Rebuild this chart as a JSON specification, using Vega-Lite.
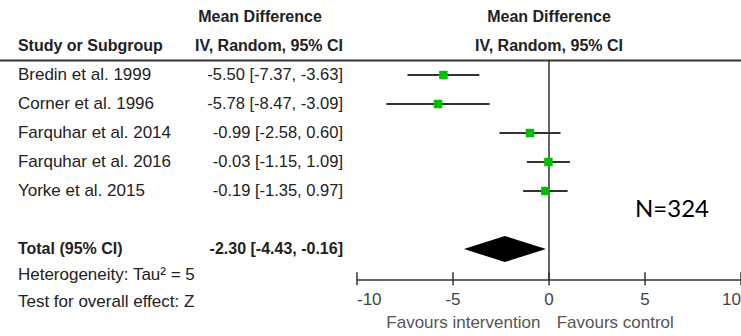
{
  "$schema": "https://vega.github.io/schema/vega-lite/v6.json",
  "width": 741,
  "height": 336,
  "autosize": {"type": "none"},
  "padding": 0,
  "background": "white",
  "config": {"view": {"stroke": null}},
  "datasets": {
    "studies": [
      {"study": "Bredin et al. 1999", "md": -5.50, "lo": -7.37, "hi": -3.63, "label": "-5.50 [-7.37, -3.63]", "row": 1},
      {"study": "Corner et al. 1996", "md": -5.78, "lo": -8.47, "hi": -3.09, "label": "-5.78 [-8.47, -3.09]", "row": 2},
      {"study": "Farquhar et al. 2014", "md": -0.99, "lo": -2.58, "hi": 0.60, "label": "-0.99 [-2.58, 0.60]", "row": 3},
      {"study": "Farquhar et al. 2016", "md": -0.03, "lo": -1.15, "hi": 1.09, "label": "-0.03 [-1.15, 1.09]", "row": 4},
      {"study": "Yorke et al. 2015", "md": -0.19, "lo": -1.35, "hi": 0.97, "label": "-0.19 [-1.35, 0.97]", "row": 5}
    ],
    "diamond": [
      {"x": -4.43, "ylo": 7, "yhi": 7},
      {"x": -2.30, "ylo": 6.55, "yhi": 7.45},
      {"x": -0.16, "ylo": 7, "yhi": 7}
    ],
    "ticks": [
      {"v": -10, "t": "-10"},
      {"v": -5, "t": "-5"},
      {"v": 0, "t": "0"},
      {"v": 5, "t": "5"},
      {"v": 10, "t": "10"}
    ],
    "one": [{"k": 1}]
  },
  "encoding": {
    "x": {"type": "quantitative", "scale": {"domain": [-28.594, 10], "nice": false, "zero": false}, "axis": null},
    "y": {"type": "quantitative", "scale": {"domain": [-1.5862, 10], "nice": false, "zero": false, "reverse": true}, "axis": null}
  },
  "layer": [
    {
      "data": {"name": "one"},
      "mark": {"type": "rule", "stroke": "#333", "strokeWidth": 2},
      "encoding": {"x": {"datum": -28.594}, "x2": {"datum": 10}, "y": {"datum": 0.5}}
    },
    {
      "data": {"name": "one"},
      "mark": {"type": "rule", "stroke": "#333", "strokeWidth": 1.5},
      "encoding": {"x": {"datum": 0}, "y": {"datum": 0.5}, "y2": {"datum": 8.07}}
    },
    {
      "data": {"name": "one"},
      "mark": {"type": "rule", "stroke": "#333", "strokeWidth": 1.5},
      "encoding": {"x": {"datum": -10}, "x2": {"datum": 10}, "y": {"datum": 8.07}}
    },
    {
      "data": {"name": "ticks"},
      "mark": {"type": "rule", "stroke": "#333", "strokeWidth": 1.5},
      "encoding": {"x": {"field": "v", "type": "quantitative"}, "y": {"datum": 7.8}, "y2": {"datum": 8.25}}
    },
    {
      "data": {"name": "ticks"},
      "transform": [{"filter": "datum.v > -10 && datum.v < 10"}],
      "mark": {"type": "text", "font": "Liberation Sans", "fontSize": 17, "fill": "#444", "align": "center", "baseline": "middle"},
      "encoding": {"x": {"field": "v", "type": "quantitative"}, "y": {"datum": 8.76}, "text": {"field": "t"}}
    },
    {
      "data": {"name": "ticks"},
      "transform": [{"filter": "datum.v == -10"}],
      "mark": {"type": "text", "font": "Liberation Sans", "fontSize": 17, "fill": "#444", "align": "left", "baseline": "middle"},
      "encoding": {"x": {"field": "v", "type": "quantitative"}, "y": {"datum": 8.76}, "text": {"field": "t"}}
    },
    {
      "data": {"name": "ticks"},
      "transform": [{"filter": "datum.v == 10"}],
      "mark": {"type": "text", "font": "Liberation Sans", "fontSize": 17, "fill": "#444", "align": "right", "baseline": "middle"},
      "encoding": {"x": {"field": "v", "type": "quantitative"}, "y": {"datum": 8.76}, "text": {"field": "t"}}
    },
    {
      "data": {"name": "studies"},
      "mark": {"type": "rule", "stroke": "#333", "strokeWidth": 2},
      "encoding": {"x": {"field": "lo", "type": "quantitative"}, "x2": {"field": "hi"}, "y": {"field": "row", "type": "quantitative"}}
    },
    {
      "data": {"name": "studies"},
      "mark": {"type": "point", "shape": "square", "filled": true, "fill": "#00c000", "opacity": 1, "size": 72},
      "encoding": {"x": {"field": "md", "type": "quantitative"}, "y": {"field": "row", "type": "quantitative"}}
    },
    {
      "data": {"name": "diamond"},
      "mark": {"type": "area", "fill": "#000", "opacity": 1},
      "encoding": {"x": {"field": "x", "type": "quantitative"}, "y": {"field": "ylo", "type": "quantitative"}, "y2": {"field": "yhi"}}
    },
    {
      "data": {"name": "studies"},
      "mark": {"type": "text", "font": "Liberation Sans", "fontSize": 17, "fill": "#222", "align": "left", "baseline": "middle"},
      "encoding": {"x": {"datum": -27.66}, "y": {"field": "row", "type": "quantitative"}, "text": {"field": "study"}}
    },
    {
      "data": {"name": "studies"},
      "mark": {"type": "text", "font": "Liberation Sans", "fontSize": 16.5, "fill": "#222", "align": "right", "baseline": "middle"},
      "encoding": {"x": {"datum": -10.73}, "y": {"field": "row", "type": "quantitative"}, "text": {"field": "label"}}
    },
    {
      "data": {"values": [
        {"t": "Study or Subgroup", "r": 0},
        {"t": "Total (95% CI)", "r": 7}
      ]},
      "mark": {"type": "text", "font": "Liberation Sans", "fontSize": 16, "fontWeight": "bold", "fill": "#222", "align": "left", "baseline": "middle"},
      "encoding": {"x": {"datum": -27.66}, "y": {"field": "r", "type": "quantitative"}, "text": {"field": "t"}}
    },
    {
      "data": {"values": [
        {"t": "IV, Random, 95% CI", "r": 0},
        {"t": "-2.30 [-4.43, -0.16]", "r": 7}
      ]},
      "mark": {"type": "text", "font": "Liberation Sans", "fontSize": 16, "fontWeight": "bold", "fill": "#222", "align": "right", "baseline": "middle"},
      "encoding": {"x": {"datum": -10.73}, "y": {"field": "r", "type": "quantitative"}, "text": {"field": "t"}}
    },
    {
      "data": {"values": [{"t": "Mean Difference", "r": -1}]},
      "mark": {"type": "text", "font": "Liberation Sans", "fontSize": 16, "fontWeight": "bold", "fill": "#222", "align": "center", "baseline": "middle"},
      "encoding": {"x": {"datum": -15.05}, "y": {"field": "r", "type": "quantitative"}, "text": {"field": "t"}}
    },
    {
      "data": {"values": [
        {"t": "Mean Difference", "r": -1},
        {"t": "IV, Random, 95% CI", "r": 0}
      ]},
      "mark": {"type": "text", "font": "Liberation Sans", "fontSize": 16, "fontWeight": "bold", "fill": "#222", "align": "center", "baseline": "middle"},
      "encoding": {"x": {"datum": 0}, "y": {"field": "r", "type": "quantitative"}, "text": {"field": "t"}}
    },
    {
      "data": {"values": [
        {"t": "Heterogeneity: Tau² = 5", "r": 7.9},
        {"t": "Test for overall effect: Z", "r": 8.83}
      ]},
      "mark": {"type": "text", "font": "Liberation Sans", "fontSize": 17, "fill": "#222", "align": "left", "baseline": "middle"},
      "encoding": {"x": {"datum": -27.66}, "y": {"field": "r", "type": "quantitative"}, "text": {"field": "t"}}
    },
    {
      "data": {"values": [{"t": "Favours intervention", "r": 9.55}]},
      "mark": {"type": "text", "font": "Liberation Sans", "fontSize": 17, "fill": "#555", "align": "right", "baseline": "middle"},
      "encoding": {"x": {"datum": -0.45}, "y": {"field": "r", "type": "quantitative"}, "text": {"field": "t"}}
    },
    {
      "data": {"values": [{"t": "Favours control", "r": 9.55}]},
      "mark": {"type": "text", "font": "Liberation Sans", "fontSize": 17, "fill": "#555", "align": "left", "baseline": "middle"},
      "encoding": {"x": {"datum": 0.4}, "y": {"field": "r", "type": "quantitative"}, "text": {"field": "t"}}
    },
    {
      "data": {"values": [{"t": "N=324", "r": 5.66}]},
      "mark": {"type": "text", "font": "Lato, Carlito, sans-serif", "fontSize": 24, "fill": "#000", "align": "left", "baseline": "middle"},
      "encoding": {"x": {"datum": 4.48}, "y": {"field": "r", "type": "quantitative"}, "text": {"field": "t"}}
    }
  ]
}
